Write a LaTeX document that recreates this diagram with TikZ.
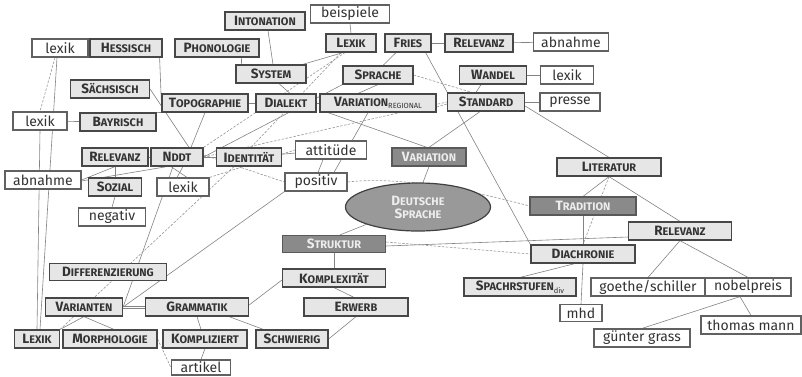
\documentclass[tikz,border=0pt]{standalone}
\usepackage{fontspec}
\setmainfont{Fira Sans}
\usetikzlibrary{shapes.geometric,backgrounds,shadows,calc}
\definecolor{boxfill}{HTML}{E6E6E6}
\definecolor{boxline}{HTML}{474747}
\definecolor{darkfill}{HTML}{8A8A8A}
\definecolor{darktext}{HTML}{EDEDED}
\definecolor{wire}{HTML}{838383}
% fake small capitals: first letter large, the rest as smaller capitals
\newcommand\kap[2]{{\bfseries\fontsize{13.5}{15}\selectfont #1}{\bfseries\fontsize{11}{12}\selectfont #2}}
\newcommand\subsc[1]{\raisebox{-2.5pt}{\fontsize{7.5}{8}\selectfont #1}}
\tikzset{
  base/.style={rectangle, inner sep=0pt, minimum height=18pt, line width=1.2pt,
               draw=boxline, text=black!80},
  lt/.style={base, fill=boxfill,
             drop shadow={shadow xshift=0.8pt, shadow yshift=-0.8pt, fill=black!60, opacity=.5}},
  wt/.style={base, fill=white, draw=black!62, font=\fontsize{14}{16}\selectfont},
  dk/.style={base, fill=darkfill, draw=black!65, text=darktext},
  ln/.style={draw=wire, line width=0.6pt},
  dl/.style={draw=wire!85, line width=0.6pt, dash pattern=on 2.5pt off 1.5pt},
}
\begin{document}
\begin{tikzpicture}[x=1pt, y=1pt]
\path[use as bounding box] (0,0) rectangle (802,-376);
\clip (0,0) rectangle (802,-376);

% ---------- top left ----------
\node[wt, minimum width=56pt] (lexA) at (60,-48) {lexik};
\node[lt, minimum width=72pt] (hess) at (126,-48) {\kap{H}{ESSISCH}};
\node[lt, minimum width=80pt] (inton) at (265,-21) {\kap{I}{NTONATION}};
\node[wt, minimum width=79pt] (beisp) at (350,-14) {beispiele};
\node[lt, minimum width=84pt] (phon) at (217,-48) {\kap{P}{HONOLOGIE}};
\node[lt, minimum width=50pt] (lexK) at (351,-43) {\kap{L}{EXIK}};
\node[lt, minimum width=46pt] (fries) at (408,-43) {\kap{F}{RIES}};
\node[lt, minimum width=68pt] (relT) at (479,-43) {\kap{R}{ELEVANZ}};
\node[wt, minimum width=75pt] (abnT) at (571,-42) {abnahme};
\node[lt, minimum width=70pt] (syst) at (271,-74) {\kap{S}{YSTEM}};
\node[lt, minimum width=70pt] (sprache) at (378,-75) {\kap{S}{PRACHE}};
\node[lt, minimum width=67pt] (wandel) at (493,-75) {\kap{W}{ANDEL}};
\node[wt, minimum width=53pt] (lexW) at (567,-75) {lexik};
\node[lt, minimum width=79pt] (saechs) at (110,-89) {\kap{S}{ÄCHSISCH}};
\node[lt, minimum width=86pt] (topo) at (205,-103) {\kap{T}{OPOGRAPHIE}};
\node[lt, minimum width=60pt] (dialekt) at (286,-103) {\kap{D}{IALEKT}};
\node[lt, minimum width=116pt] (varreg) at (378,-103) {\kap{V}{ARIATION}\subsc{REGIONAL}};
\node[lt, minimum width=77pt] (standard) at (486,-102) {\kap{S}{TANDARD}};
\node[wt, minimum width=60pt] (presse) at (570,-102) {presse};
\node[wt, minimum width=54pt] (lexB) at (40,-121) {lexik};
\node[lt, minimum width=76pt] (bayr) at (118,-122) {\kap{B}{AYRISCH}};

% ---------- middle band ----------
\node[lt, minimum width=66pt] (relL) at (115,-157) {\kap{R}{ELEVANZ}};
\node[lt, minimum width=52pt] (nddt) at (177,-157) {\kap{N}{DDT}};
\node[lt, minimum width=65pt] (ident) at (249,-157) {\kap{I}{DENTITÄT}};
\node[wt, minimum width=71pt] (attit) at (331,-150) {attitüde};
\node[dk, minimum width=74pt] (variation) at (429,-157) {\kap{V}{ARIATION}};
\node[wt, minimum width=76pt] (abnL) at (43,-180) {abnahme};
\node[lt, minimum width=53pt] (sozial) at (115,-187) {\kap{S}{OZIAL}};
\node[wt, minimum width=52pt] (lexN) at (183,-187) {lexik};
\node[wt, minimum width=62pt] (positiv) at (316,-182) {positiv};
\node[lt, minimum width=104pt] (literatur) at (609,-167) {\kap{L}{ITERATUR}};
\node[ellipse, draw=black!75, line width=1.2pt, fill=black!40, minimum width=145pt,
      minimum height=48pt, inner sep=0pt, text=darktext, align=center]
      (ds) at (418,-207) {\kap{D}{EUTSCHE}\\[1pt]\kap{S}{PRACHE}};
\node[dk, minimum width=106pt] (tradition) at (583,-206) {\kap{T}{RADITION}};
\node[wt, minimum width=67pt] (negativ) at (112,-217) {negativ};

% ---------- lower part ----------
\node[dk, minimum width=103pt, minimum height=17pt] (struktur) at (334,-244) {\kap{S}{TRUKTUR}};
\node[lt, minimum width=103pt] (relR) at (680,-231) {\kap{R}{ELEVANZ}};
\node[lt, minimum width=104pt] (diachronie) at (583,-254) {\kap{D}{IACHRONIE}};
\node[lt, minimum width=117pt, minimum height=17pt] (differ) at (108,-272) {\kap{D}{IFFERENZIERUNG}};
\node[lt, minimum width=103pt] (komplex) at (334,-278) {\kap{K}{OMPLEXITÄT}};
\node[lt, minimum width=112pt] (spach) at (520,-287) {\kap{S}{PACHRSTUFEN}\subsc{div}};
\node[wt, minimum width=114pt] (goethe) at (648,-287) {goethe/schiller};
\node[wt, minimum width=86pt] (nobel) at (748,-287) {nobelpreis};
\node[lt, minimum width=104pt] (erwerb) at (356,-307) {\kap{E}{RWERB}};
\node[lt, minimum width=77pt] (varianten) at (84,-307) {\kap{V}{ARIANTEN}};
\node[lt, minimum width=103pt] (gramm) at (197,-307) {\kap{G}{RAMMATIK}};
\node[wt, minimum width=42pt, minimum height=17pt] (mhd) at (581,-313) {mhd};
\node[wt, minimum width=100pt] (thomas) at (751,-325) {thomas mann};
\node[lt, minimum width=45pt] (lexL) at (37,-339) {\kap{L}{EXIK}};
\node[lt, minimum width=94pt] (morph) at (110,-339) {\kap{M}{ORPHOLOGIE}};
\node[lt, minimum width=84pt] (kompl) at (205,-339) {\kap{K}{OMPLIZIERT}};
\node[lt, minimum width=72pt] (schwier) at (292,-339) {\kap{S}{CHWIERIG}};
\node[wt, minimum width=96pt] (guenter) at (642,-338) {günter grass};
\node[wt, minimum width=59pt, minimum height=15pt] (artikel) at (201,-367.5) {artikel};

% ---------- connectors, behind the boxes ----------
\begin{pgfonlayer}{background}
% solid links
\path[ln] (lexA) -- (hess);
\path[ln] ([xshift=-3pt]lexA.south) -- ([xshift=3pt]lexL.north);
\path[ln] (lexB.south) -- (lexL.north);
\path[ln] (lexB) -- (bayr);
\path[ln] ([xshift=-3pt]hess.south east) -- (topo.west);
\path[ln] (bayr.north east) -- ([xshift=5pt]topo.south west);
\path[ln] (saechs.east) -- ([xshift=12pt]nddt.north);
\path[ln] (topo.south) -- ([xshift=14pt]nddt.north);
\path[ln] (topo) -- (dialekt);
\path[ln] ([xshift=-18pt]phon.south east) -- ([xshift=6pt]syst.north west);
\path[ln] ([xshift=3pt]inton.south) -- ([xshift=2pt]syst.north);
\path[ln] ([xshift=-8pt]lexK.south) -- ([xshift=-4pt]syst.north east);
\path[ln] (beisp.south) -- (lexK.north);
\path[ln] ([xshift=8pt]syst.south) -- ([xshift=4pt]dialekt.north);
\path[ln] (dialekt) -- (varreg);
\path[ln] (sprache.south) -- ([xshift=-20pt]varreg.north);
\path[ln] ([xshift=-12pt]fries.south) -- ([xshift=5pt]sprache.north);
\path[ln] (fries) -- (relT);
\path[ln] (relT) -- (abnT);
\path[ln] (wandel) -- (lexW);
\path[ln] (standard) -- (presse);
\path[ln] ([xshift=-12pt]wandel.south) -- ([xshift=-10pt]standard.north);
\path[ln] ([xshift=-6pt]standard.south) -- (variation.north);
\path[ln] ([xshift=-50pt]varreg.south) -- ([xshift=-2pt]variation.north);
\path[ln] (variation.south) -- ([xshift=5pt]ds.north);
\path[ln] ([yshift=-4pt]standard.east) -- (literatur.north);
\path[ln] ([xshift=-6pt]fries.south east) -- (diachronie.north west);
\path[ln] (ds.south west) -- ([xshift=6pt]struktur.north);
\path[ln] (struktur.south) -- (komplex.north);
\path[ln] (komplex.south) -- ([xshift=-2pt]erwerb.north);
\path[ln] (erwerb.south) -- (schwier.east);
\path[ln] ([yshift=2pt]gramm.east) -- ([yshift=-2pt]komplex.west);
\path[ln] (gramm.south) -- ([xshift=-4pt]kompl.north);
\path[ln] ([xshift=-20pt]gramm.south east) -- ([xshift=8pt]schwier.north west);
\path[ln] ([yshift=1pt]varianten.east) -- ([yshift=1pt]gramm.west);
\path[ln] ([yshift=-1.5pt]varianten.east) -- ([yshift=-1.5pt]gramm.west);
\path[ln] (varianten.south) -- (lexL.north east);
\path[ln] (varianten.south) -- ([xshift=4pt]morph.north);
\path[ln] (kompl.south) -- (artikel.north);
\path[ln] ([yshift=-2pt]struktur.east) -- ([yshift=-6pt]relR.west);
\path[ln] (literatur.south) -- (tradition.north);
\path[ln] (literatur.south) -- (relR.north);
\path[ln] (tradition.south) -- (diachronie.north);
\path[ln] ([xshift=-8pt]diachronie.south) -- (spach.north);
\path[ln] (diachronie.south) -- (mhd.north);
\path[ln] (relR.south) -- (goethe.north);
\path[ln] (relR.south) -- (nobel.north);
\path[ln] ([xshift=-8pt]nobel.south) -- (guenter.north);
\path[ln] ([xshift=-8pt]nobel.south) -- (thomas.north);
\path[ln] (relL) -- (nddt);
\path[ln] (relL.south) -- (sozial.north);
\path[ln] (relL.south) -- (abnL.east);
\path[ln] (sozial.south) -- (negativ.north);
\path[ln] ([xshift=-6pt]nddt.south) -- ([xshift=4pt]lexN.north);
\path[ln] ([xshift=6pt]nddt.south) -- ([xshift=-6pt]lexN.north);
\path[ln] ([xshift=-4pt]nddt.south) -- (varianten.east);
\path[ln] ([xshift=-10pt]nddt.south) -- ([yshift=-1pt]abnL.east);
\path[ln] (nddt) -- (ident);
\path[ln] (ident) -- (attit);
\path[ln] ([xshift=-8pt]attit.south) -- ([xshift=2pt]positiv.north);
\path[ln] ([xshift=-10pt]varreg.south) -- ([xshift=18pt]positiv.north);
\path[ln] (positiv.south west) -- (varianten.east);
\path[ln] (nddt.east) -- (sprache.south west);
% dashed links
\path[dl] ([xshift=-5pt]lexA.south) -- (lexB.north);
\path[dl] (nddt.north east) -- ([xshift=-6pt]lexK.south);
\path[dl] (nddt.east) -- (standard.west);
\path[dl] ([xshift=2pt]ident.north) -- ([xshift=-10pt]lexK.south);
\path[dl] ([xshift=-15pt]ident.south) -- (lexL.north east);
\path[dl] ([yshift=2pt]nddt.east) -- (positiv.west);
\path[dl] (positiv.east) .. controls (400,-176) and (470,-190) .. (tradition.west);
\path[dl] ([yshift=-4pt]varreg.east) -- ([yshift=-2pt]standard.west);
\path[dl] (sprache.east) -- ([xshift=-14pt]standard.north);
\path[dl] (literatur.south) -- (diachronie.north);
\path[dl] (morph.east) -- (artikel.west);
\path[dl] ([yshift=2pt]struktur.east) -- (diachronie.west);
\path[dl] (lexN.north east) -- (attit.west);
\end{pgfonlayer}
\end{tikzpicture}
\end{document}
